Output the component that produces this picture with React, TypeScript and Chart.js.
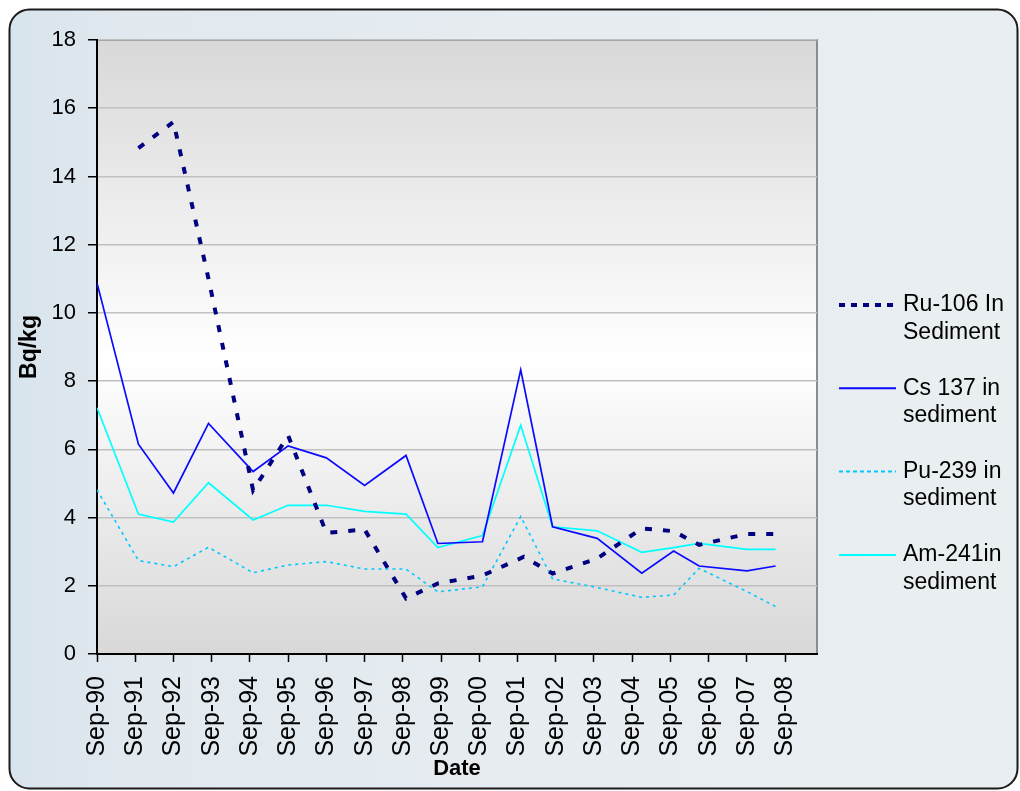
import React, { useEffect, useRef } from 'react';
import { Chart, registerables } from 'chart.js';

Chart.register(...registerables);

// ---------- data ----------
const xTickLabels = [
  'Sep-90', 'Sep-91', 'Sep-92', 'Sep-93', 'Sep-94', 'Sep-95', 'Sep-96', 'Sep-97', 'Sep-98', 'Sep-99',
  'Sep-00', 'Sep-01', 'Sep-02', 'Sep-03', 'Sep-04', 'Sep-05', 'Sep-06', 'Sep-07', 'Sep-08',
];

// sampling dates, in months after Sep-1990
const sampleMonths = [0, 13, 24, 35, 49, 60, 72, 84, 97, 107, 121, 133, 143, 157, 171, 181, 189, 204, 213];
const cs137 = [10.88, 6.15, 4.72, 6.76, 5.35, 6.1, 5.75, 4.94, 5.82, 3.24, 3.29, 8.33, 3.73, 3.39, 2.37, 3.02, 2.58, 2.44, 2.58];
const pu239 = [4.81, 2.74, 2.56, 3.13, 2.38, 2.61, 2.71, 2.49, 2.49, 1.82, 1.97, 4.03, 2.2, 1.95, 1.66, 1.73, 2.51, 1.83, 1.39];
const am241 = [7.22, 4.1, 3.87, 5.02, 3.93, 4.36, 4.36, 4.18, 4.1, 3.12, 3.47, 6.71, 3.73, 3.61, 2.98, 3.12, 3.24, 3.07, 3.07];

const ruMonths = [13, 24, 35, 49, 60, 72, 84, 97, 107, 121, 134, 143, 157, 171, 181, 189, 204, 213];
const ru106 = [14.83, 15.6, 11.0, 4.8, 6.4, 3.55, 3.65, 1.63, 2.07, 2.3, 2.85, 2.36, 2.8, 3.68, 3.6, 3.2, 3.52, 3.52];

const seriesNames = [
  ['Ru-106 In', 'Sediment'],
  ['Cs 137 in', 'sediment'],
  ['Pu-239 in', 'sediment'],
  ['Am-241in', 'sediment'],
];

const yMin = 0;
const yMax = 18;
const yStep = 2;
const xAxisTitle = 'Date';
const yAxisTitle = 'Bq/kg';

// ---------- helpers ----------
const FONT = '"Liberation Sans", Arial, sans-serif';
const toPoints = (xs: number[], ys: number[]) => xs.map((x, i) => ({ x, y: ys[i] }));

const backgroundPlugin = {
  id: 'panelBackground',
  beforeDraw(chart: any) {
    const { ctx, chartArea: a, width, height } = chart;
    ctx.save();
    ctx.fillStyle = '#ffffff';
    ctx.fillRect(0, 0, width, height);
    // rounded outer panel
    ctx.beginPath();
    ctx.roundRect(9.5, 9.5, 1008, 779, 20);
    const g = ctx.createLinearGradient(0, 0, width, 0);
    g.addColorStop(0, '#d7e3ec');
    g.addColorStop(0.12, '#e1e9ef');
    g.addColorStop(0.5, '#e6ecf0');
    g.addColorStop(1, '#e9eff1');
    ctx.fillStyle = g;
    ctx.fill();
    ctx.lineWidth = 2;
    ctx.strokeStyle = '#1a1a1a';
    ctx.stroke();
    // plot area gradient
    const pg = ctx.createLinearGradient(0, a.top, 0, a.bottom);
    pg.addColorStop(0, '#d8d8d8');
    pg.addColorStop(0.52, '#ffffff');
    pg.addColorStop(1, '#d8d8d8');
    ctx.fillStyle = pg;
    ctx.fillRect(a.left, a.top, a.right - a.left, a.bottom - a.top);
    ctx.strokeStyle = '#8c8c8c';
    ctx.lineWidth = 2;
    ctx.beginPath();
    ctx.moveTo(a.left, a.top);
    ctx.lineTo(a.right, a.top);
    ctx.lineTo(a.right, a.bottom);
    ctx.stroke();
    ctx.restore();
  },
};

const sideLegendPlugin = {
  id: 'sideLegend',
  afterDraw(chart: any) {
    const { ctx, chartArea: a } = chart;
    ctx.save();
    const x0 = a.right + 22;
    const x1 = a.right + 79;
    const tx = a.right + 86;
    chart.data.datasets.forEach((ds: any, i: number) => {
      const y = a.top + 265 + i * 83.3;
      ctx.strokeStyle = ds.borderColor;
      ctx.lineWidth = ds.legendWidth;
      ctx.setLineDash(ds.legendDash);
      ctx.beginPath();
      ctx.moveTo(x0, y);
      ctx.lineTo(x1, y);
      ctx.stroke();
      ctx.setLineDash([]);
      ctx.fillStyle = '#000000';
      ctx.font = `23px ${FONT}`;
      ctx.textAlign = 'left';
      ctx.textBaseline = 'middle';
      (ds.legendLines as string[]).forEach((t, j) => ctx.fillText(t, tx, y + j * 27.3));
    });
    ctx.restore();
  },
};

export default function App() {
  const canvasRef = useRef<HTMLCanvasElement | null>(null);

  useEffect(() => {
    if (!canvasRef.current) return;
    const chart = new Chart(canvasRef.current, {
      type: 'line',
      data: {
        datasets: [
          {
            label: seriesNames[0].join(' '),
            data: toPoints(ruMonths, ru106),
            borderColor: '#000080',
            borderWidth: 4,
            borderDash: [7, 11],
            legendWidth: 4,
            legendDash: [6, 6],
            legendLines: seriesNames[0],
          } as any,
          {
            label: seriesNames[1].join(' '),
            data: toPoints(sampleMonths, cs137),
            borderColor: '#0a0aff',
            borderWidth: 1.7,
            legendWidth: 2,
            legendDash: [],
            legendLines: seriesNames[1],
          } as any,
          {
            label: seriesNames[2].join(' '),
            data: toPoints(sampleMonths, pu239),
            borderColor: '#00c8ff',
            borderWidth: 1.6,
            borderDash: [3, 4],
            legendWidth: 2,
            legendDash: [4, 3],
            legendLines: seriesNames[2],
          } as any,
          {
            label: seriesNames[3].join(' '),
            data: toPoints(sampleMonths, am241),
            borderColor: '#00ffff',
            borderWidth: 1.7,
            legendWidth: 2,
            legendDash: [],
            legendLines: seriesNames[3],
          } as any,
        ],
      },
      options: {
        animation: false,
        responsive: false,
        events: [],
        layout: { padding: { left: 8, top: 40, right: 203, bottom: 0 } },
        elements: {
          point: { radius: 0 },
          line: { tension: 0, fill: false },
        },
        plugins: {
          legend: { display: false },
          tooltip: { enabled: false },
        },
        scales: {
          x: {
            type: 'linear',
            min: 0,
            max: 226,
            offset: false,
            afterBuildTicks: (scale: any) => {
              scale.ticks = xTickLabels.map((_, i) => ({ value: i * 12 }));
            },
            afterFit: (scale: any) => {
              scale.height = 137;
            },
            grid: {
              drawOnChartArea: false,
              drawTicks: true,
              tickLength: 8,
              tickColor: '#000000',
              tickWidth: 1.5,
            },
            border: { display: true, color: '#000000', width: 2 },
            ticks: {
              autoSkip: false,
              maxRotation: 90,
              minRotation: 90,
              padding: 14,
              color: '#000000',
              font: { family: FONT, size: 25 },
              callback: (_v: any, i: number) => xTickLabels[i],
            },
            title: {
              display: true,
              text: xAxisTitle,
              color: '#000000',
              font: { family: FONT, size: 22, weight: 'bold' },
              padding: { top: 0, bottom: 9 },
            },
          },
          y: {
            min: yMin,
            max: yMax,
            afterFit: (scale: any) => {
              scale.width = 89;
            },
            grid: {
              color: '#c0c0c0',
              lineWidth: 1.5,
              drawTicks: true,
              tickLength: 9,
              tickColor: '#000000',
              tickWidth: 1.5,
            },
            border: { display: true, color: '#000000', width: 2 },
            ticks: {
              stepSize: yStep,
              padding: 12,
              color: '#000000',
              font: { family: FONT, size: 22 },
            },
            title: {
              display: true,
              text: yAxisTitle,
              color: '#000000',
              font: { family: FONT, size: 23, weight: 'bold' },
              padding: { top: 8, bottom: 0 },
            },
          },
        },
      } as any,
      plugins: [backgroundPlugin, sideLegendPlugin],
    });
    return () => chart.destroy();
  }, []);

  return (
    <div style={{ position: 'absolute', left: 0, top: 0, width: 1020, height: 791 }}>
      <canvas ref={canvasRef} width={1020} height={791} style={{ display: 'block' }} />
    </div>
  );
}
